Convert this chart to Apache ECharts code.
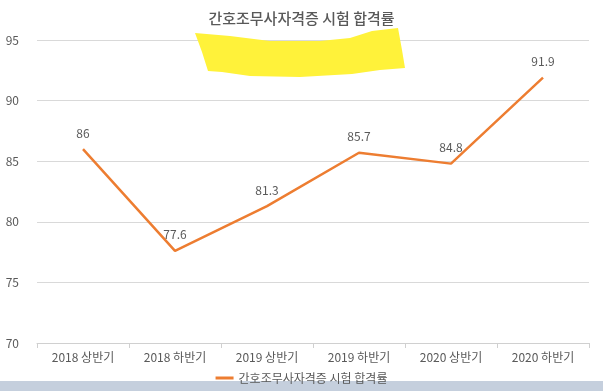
<!DOCTYPE html>
<html><head><meta charset="utf-8">
<script src="https://cdn.jsdelivr.net/npm/echarts@6/dist/echarts.min.js"></script>
<style>html,body{margin:0;padding:0;background:#fff;}#c{width:603px;height:391px;}</style>
</head><body><div id="c"></div>
<script>
const categories = ['2018 상반기','2018 하반기','2019 상반기','2019 하반기','2020 상반기','2020 하반기'];
const passRate = [86, 77.6, 81.3, 85.7, 84.8, 91.9];
const seriesName = '간호조무사자격증 시험 합격률';
const titleText = '간호조무사자격증 시험 합격률';

const chart = echarts.init(document.getElementById('c'));
const font = '"Noto Sans CJK KR", "Noto Sans", sans-serif';
chart.setOption({
  animation: false,
  textStyle: { fontFamily: font },
  title: { text: titleText, left: 'center', top: 6,
    textStyle: { fontFamily: font, fontSize: 15, fontWeight: 500, color: '#595959' } },
  legend: { bottom: 2, left: 'center', itemWidth: 18, itemHeight: 3, icon: 'rect', itemGap: 2,
    textStyle: { fontFamily: font, fontSize: 12, color: '#595959' } },
  grid: { left: 37, right: 14, top: 40, bottom: 48 },
  xAxis: { type: 'category', data: categories, boundaryGap: true,
    axisLine: { lineStyle: { color: '#d0d0d0' } },
    axisTick: { show: true, lineStyle: { color: '#d0d0d0' } },
    axisLabel: { color: '#595959', fontSize: 12, margin: 8, fontFamily: font } },
  yAxis: { type: 'value', min: 70, max: 95, interval: 5,
    axisLine: { show: false }, axisTick: { show: false },
    splitLine: { lineStyle: { color: '#d9d9d9' } },
    axisLabel: { color: '#595959', fontSize: 12, margin: 18, fontFamily: font } },
  series: [{ name: seriesName, type: 'line', data: passRate, symbol: 'circle', symbolSize: 0, showSymbol: true,
    lineStyle: { color: '#ED7D31', width: 2.5 }, itemStyle: { color: '#ED7D31' },
    label: { show: true, position: 'top', distance: 10, color: '#595959', fontSize: 12, fontFamily: font } }],
  graphic: [
    { type: 'polygon', z: 100, shape: { points: [[195,33],[230,36],[270,41],[320,41],[350,38],[372,31],[398,28],[402,50],[405,68],[380,70],[352,74],[300,77],[250,76],[222,72],[208,71],[202,52]] },
      style: { fill: '#FFF23A' } },
    { type: 'rect', z: 0, shape: { x: 0, y: 381, width: 603, height: 10 }, style: { fill: '#c5cfdd' } }
  ]
});
</script></body></html>
